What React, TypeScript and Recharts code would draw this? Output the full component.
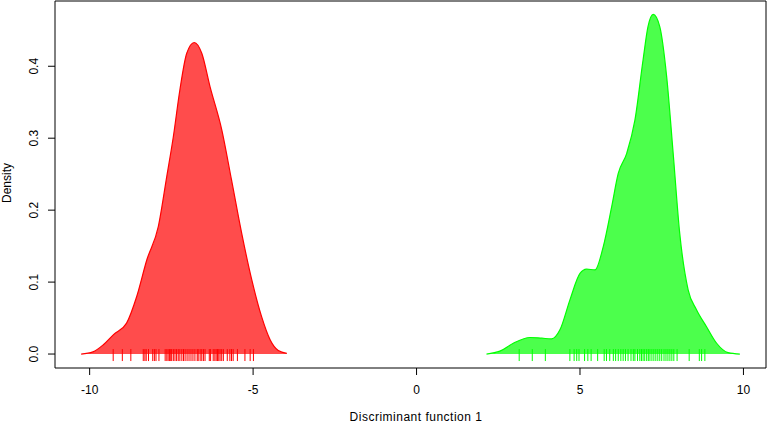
import React from 'react';
import { ComposedChart, Area, Scatter, XAxis, YAxis, ReferenceArea } from 'recharts';

// density estimate of group 1 (red)
const redX = [-10.26, -9.9, -9.58, -9.27, -8.87, -8.56, -8.25, -7.9, -7.64, -7.44, -7.24, -7.03, -6.8, -6.57, -6.32, -5.96, -5.66, -5.35, -5.04, -4.74, -4.48, -4.23, -3.97];
const redY = [0.0, 0.003, 0.013, 0.027, 0.043, 0.08, 0.131, 0.177, 0.247, 0.302, 0.367, 0.418, 0.433, 0.418, 0.372, 0.312, 0.242, 0.168, 0.103, 0.052, 0.02, 0.005, 0.001];

// density estimate of group 2 (green)
const greenX = [2.14, 2.55, 2.96, 3.47, 3.83, 4.13, 4.39, 4.69, 5.0, 5.2, 5.46, 5.71, 5.97, 6.17, 6.43, 6.68, 6.93, 7.08, 7.24, 7.44, 7.65, 7.85, 8.05, 8.31, 8.56, 8.87, 9.18, 9.53, 9.89];
const greenY = [0.0, 0.004, 0.015, 0.023, 0.022, 0.021, 0.034, 0.075, 0.112, 0.118, 0.117, 0.149, 0.205, 0.251, 0.279, 0.325, 0.409, 0.455, 0.472, 0.455, 0.386, 0.279, 0.168, 0.089, 0.062, 0.038, 0.015, 0.002, 0.0];

// rug (individual scores)
const redRug = [-9.28, -9.0, -8.74, -8.36, -8.31, -8.27, -8.2, -8.07, -8.02, -7.97, -7.88, -7.69, -7.64, -7.6, -7.56, -7.52, -7.49, -7.44, -7.39, -7.34, -7.29, -7.24, -7.18, -7.13, -7.08, -7.02, -6.96, -6.9, -6.84, -6.78, -6.71, -6.68, -6.62, -6.57, -6.52, -6.47, -6.34, -6.3, -6.22, -6.17, -6.13, -6.09, -6.05, -6.01, -5.96, -5.91, -5.79, -5.71, -5.66, -5.61, -5.48, -5.25, -5.09, -4.99];
const greenRug = [3.14, 3.54, 3.94, 4.69, 4.82, 4.9, 4.97, 5.14, 5.24, 5.34, 5.54, 5.74, 5.81, 5.91, 6.02, 6.09, 6.17, 6.25, 6.32, 6.39, 6.47, 6.56, 6.63, 6.68, 6.76, 6.83, 6.88, 6.93, 6.98, 7.04, 7.09, 7.14, 7.2, 7.26, 7.32, 7.38, 7.44, 7.5, 7.57, 7.63, 7.69, 7.75, 7.81, 7.87, 7.97, 8.34, 8.65, 8.72, 8.82];

const xTicks = [-10, -5, 0, 5, 10];
const yTicks = [0, 0.1, 0.2, 0.3, 0.4];
const xDomain = [-11.06, 10.69];
const yDomain = [-0.0194, 0.4907];

const curveData = [
  ...redX.map((x, i) => ({ x, red: redY[i], green: null })),
  ...greenX.map((x, i) => ({ x, red: null, green: greenY[i] })),
].sort((a, b) => a.x - b.x);

const redRugData = redRug.map((x) => ({ x, y: 0 }));
const greenRugData = greenRug.map((x) => ({ x, y: 0 }));

const FONT = '"Liberation Sans", Arial, Helvetica, sans-serif';

const RugTick = (color: string) => (props: any) => (
  <line x1={props.cx} x2={props.cx} y1={props.cy - 5} y2={props.cy + 7} stroke={color} strokeWidth={1} />
);

const XTick = (props: any) => (
  <text x={props.x} y={props.y + 16.5} textAnchor="middle" fontSize={12} fontFamily={FONT} fill="#000">
    {props.payload.value}
  </text>
);

const YTick = (props: any) => (
  <text x={38} y={props.y} transform={`rotate(-90, 38, ${props.y})`} textAnchor="middle" fontSize={12} fontFamily={FONT} fill="#000">
    {Number(props.payload.value).toFixed(1)}
  </text>
);

export default function App() {
  return (
    <div style={{ position: 'fixed', left: 0, top: 0, width: 767, height: 423, background: '#fff' }}>
      <ComposedChart width={767} height={423} data={curveData} margin={{ top: 1, right: 1, left: 0, bottom: 0 }}>
        <XAxis
          dataKey="x"
          type="number"
          domain={xDomain}
          ticks={xTicks}
          allowDataOverflow
          axisLine={false}
          tickSize={7}
          tickLine={{ stroke: '#000' }}
          tick={<XTick />}
          height={55}
          interval={0}
        />
        <YAxis
          type="number"
          domain={yDomain}
          ticks={yTicks}
          allowDataOverflow
          axisLine={false}
          tickSize={7}
          tickLine={{ stroke: '#000' }}
          tick={<YTick />}
          width={55}
          interval={0}
        />
        <Area
          dataKey="red"
          type="monotone"
          baseValue={0}
          stroke="#ff0000"
          strokeWidth={1.2}
          fill="rgb(255,0,0)"
          fillOpacity={0.7}
          isAnimationActive={false}
        />
        <Area
          dataKey="green"
          type="monotone"
          baseValue={0}
          stroke="#00ff00"
          strokeWidth={1.2}
          fill="rgb(0,255,0)"
          fillOpacity={0.7}
          isAnimationActive={false}
        />
        <Scatter data={redRugData} dataKey="y" shape={RugTick('#ff0000')} isAnimationActive={false} />
        <Scatter data={greenRugData} dataKey="y" shape={RugTick('#00ff00')} isAnimationActive={false} />
        <ReferenceArea x1={xDomain[0]} x2={xDomain[1]} y1={yDomain[0]} y2={yDomain[1]} fill="none" stroke="#000" strokeWidth={1} ifOverflow="visible" />
        <text x={416} y={421} textAnchor="middle" fontSize={12} fontFamily={FONT} letterSpacing={0.5} fill="#000">
          Discriminant function 1
        </text>
        <text x={11} y={183} transform="rotate(-90, 11, 183)" textAnchor="middle" fontSize={12} fontFamily={FONT} fill="#000">
          Density
        </text>
      </ComposedChart>
    </div>
  );
}
